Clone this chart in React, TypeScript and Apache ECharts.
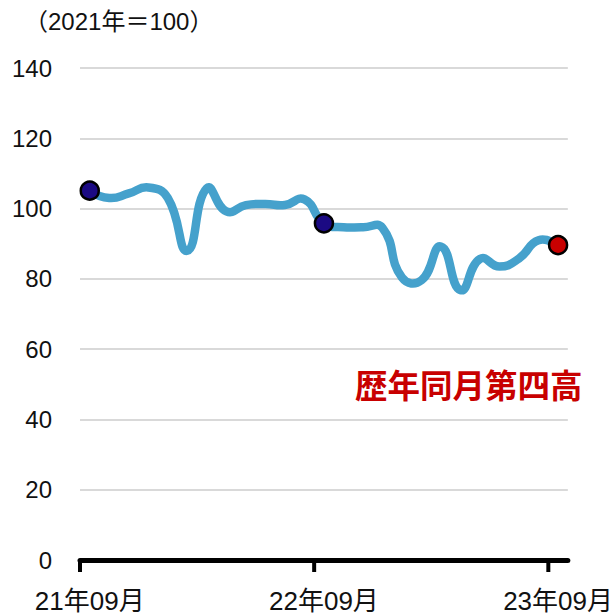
import React, { useEffect, useRef } from "react";
import * as echarts from "echarts";

const months: string[] = [
  "21年09月", "21年10月", "21年11月", "21年12月", "22年01月", "22年02月", "22年03月",
  "22年04月", "22年05月", "22年06月", "22年07月", "22年08月", "22年09月", "22年10月",
  "22年11月", "22年12月", "23年01月", "23年02月", "23年03月", "23年04月", "23年05月",
  "23年06月", "23年07月", "23年08月", "23年09月",
];
const values: number[] = [
  105.1, 103.0, 104.3, 106.0, 103.0, 88.0, 105.8, 99.2, 101.0, 101.3, 101.0, 102.6, 95.8,
  94.7, 94.7, 94.5, 80.4, 79.6, 89.2, 76.8, 85.7, 83.5, 85.8, 91.0, 89.6,
];
const markedIdx: number[] = [0, 12, 24];
const markedColors: string[] = ["#1B0A83", "#1B0A83", "#C80000"];
const tickIdx: number[] = [0, 12, 24];
const yTicks = { min: 0, max: 140, interval: 20 };
const unitLabel = "（2021年＝100）";
const noteLabel = "歴年同月第四高";

const FONT = '"Liberation Sans", "Noto Sans CJK JP", sans-serif';

export default function App() {
  const ref = useRef<HTMLDivElement>(null);
  useEffect(() => {
    if (!ref.current) return;
    const chart = echarts.init(ref.current, undefined, { renderer: "svg" });
    const baseGraphic: any[] = [
      {
        id: "unit",
        type: "text",
        left: 24,
        top: 9,
        style: { text: unitLabel, fontSize: 24, fill: "#111", fontFamily: FONT },
      },
      {
        id: "note",
        type: "text",
        left: 355,
        top: 371,
        style: { text: noteLabel, fontSize: 32.5, fontWeight: "bold", fill: "#C80000", fontFamily: FONT },
      },
    ];
    chart.setOption({
      animation: false,
      backgroundColor: "#ffffff",
      textStyle: { fontFamily: FONT },
      grid: { left: 80, right: 48, top: 68, bottom: 55, containLabel: false },
      xAxis: {
        type: "category",
        data: months,
        boundaryGap: true,
        axisLine: { show: true, lineStyle: { color: "#000", width: 5 } },
        axisTick: { show: false },
        axisLabel: { interval: 11, fontSize: 26, color: "#111", margin: 28, fontFamily: FONT },
        splitLine: { show: false },
      },
      yAxis: {
        type: "value",
        min: yTicks.min,
        max: yTicks.max,
        interval: yTicks.interval,
        axisLine: { show: false },
        axisTick: { show: false },
        axisLabel: { fontSize: 24, color: "#111", margin: 28, fontFamily: FONT },
        splitLine: { show: true, lineStyle: { color: "#D9D9D9", width: 2 } },
      },
      series: [
        {
          type: "custom",
          data: values.map((v, i) => [i, v]),
          encode: { x: 0, y: 1 },
          silent: true,
          z: 2,
          renderItem: (params: any, api: any) => {
            if (params.dataIndex !== 0) return null;
            const points = values.map((v, i) => api.coord([i, v]));
            return {
              type: "polyline",
              shape: { points, smooth: 0.5 },
              style: {
                stroke: "#45A1CC",
                lineWidth: 8.5,
                fill: "none",
                lineCap: "round",
                lineJoin: "round",
              },
            };
          },
        },
        {
          type: "scatter",
          data: markedIdx.map((i, k) => ({
            value: [i, values[i]],
            itemStyle: { color: markedColors[k], borderColor: "#000", borderWidth: 2.5, opacity: 1 },
          })),
          symbol: "circle",
          symbolSize: 18,
          z: 3,
        },
      ],
      graphic: baseGraphic,
    });
    // axis ticks at band boundaries of the labelled months (derived from the axis scale)
    const c0 = chart.convertToPixel({ xAxisIndex: 0 }, 0) as number;
    const c1 = chart.convertToPixel({ xAxisIndex: 0 }, 1) as number;
    const half = (c1 - c0) / 2;
    const y0 = chart.convertToPixel({ yAxisIndex: 0 }, 0) as number;
    const ticks = tickIdx.map((i) => {
      const x = (chart.convertToPixel({ xAxisIndex: 0 }, i) as number) - half;
      return {
        id: "tick" + i,
        type: "line",
        shape: { x1: x, y1: y0, x2: x, y2: y0 + 12 },
        style: { stroke: "#000", lineWidth: 4 },
        z: 10,
      };
    });
    chart.setOption({ graphic: [...baseGraphic, ...ticks] });
    return () => chart.dispose();
  }, []);
  return (
    <div
      ref={ref}
      style={{ position: "absolute", left: 0, top: 0, width: 616, height: 615 }}
    />
  );
}
